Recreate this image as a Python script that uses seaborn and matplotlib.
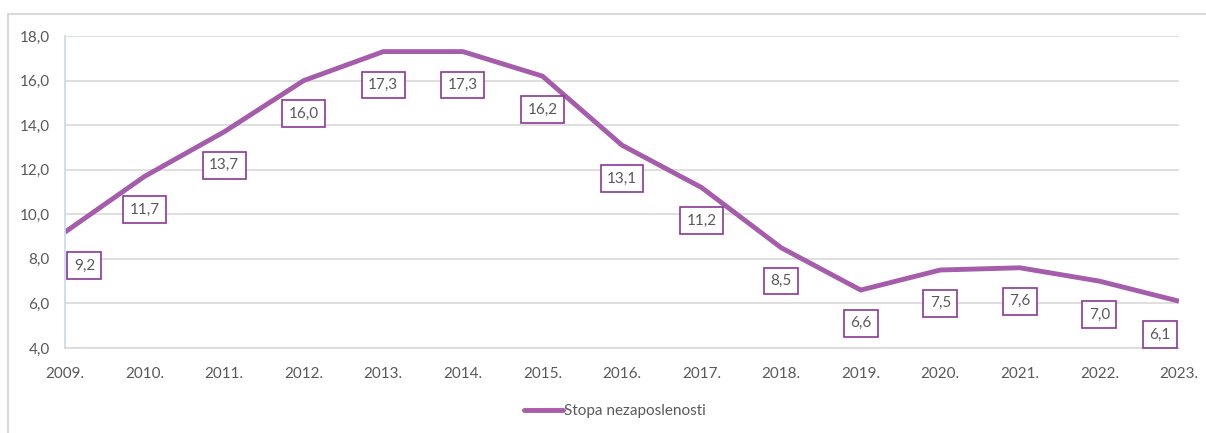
import matplotlib
matplotlib.use("Agg")
import matplotlib.pyplot as plt
import matplotlib.lines as mlines
import seaborn as sns
import pandas as pd

years = ["2009.", "2010.", "2011.", "2012.", "2013.", "2014.", "2015.", "2016.",
         "2017.", "2018.", "2019.", "2020.", "2021.", "2022.", "2023."]
rate = [9.2, 11.7, 13.7, 16.0, 17.3, 17.3, 16.2, 13.1, 11.2, 8.5, 6.6, 7.5, 7.6, 7.0, 6.1]
series_name = "Stopa nezaposlenosti"

df = pd.DataFrame({"year": years, "rate": rate, "pos": range(len(years))})

sns.set_style("white")
plt.rcParams["font.family"] = ["Lato", "DejaVu Sans"]

line_col = "#A55CAA"
box_col = "#8A3896"
text_col = "#595959"
grid_col = "#D9D9D9"

fig = plt.figure(figsize=(12.06, 4.33), dpi=100)
ax = fig.add_axes([65 / 1206, 1 - 348 / 433, (1179 - 65) / 1206, (348 - 36) / 433])

# outer chart border
fig.add_artist(plt.Rectangle((8 / 1206, -0.1), 1.2, 1 - 13.5 / 433 + 0.1,
                             transform=fig.transFigure, fill=False,
                             edgecolor="#D9D9D9", lw=1.5))

sns.lineplot(data=df, x="pos", y="rate", ax=ax, color=line_col, lw=3.5,
             legend=False, solid_capstyle="butt")

ax.set_xlim(0, len(years) - 1)
ax.set_ylim(4, 18)
ax.set_yticks([4, 6, 8, 10, 12, 14, 16, 18])
ax.set_yticklabels([f"{v:.1f}".replace(".", ",") for v in ax.get_yticks()])
ax.set_xticks(range(len(years)))
ax.set_xticklabels(years)
ax.set_xlabel("")
ax.set_ylabel("")

ax.grid(axis="y", color=grid_col, lw=1.2)
ax.set_axisbelow(True)
for s in ["top", "right"]:
    ax.spines[s].set_visible(False)
ax.spines["left"].set_color("#C5D9F1")
ax.spines["left"].set_linewidth(1.2)
ax.spines["bottom"].set_color(grid_col)
ax.spines["bottom"].set_linewidth(1.2)
ax.tick_params(axis="x", direction="in", length=5, color=grid_col, width=1.2,
               labelsize=11, labelcolor=text_col, pad=14)
ax.tick_params(axis="y", length=0, labelsize=11, labelcolor=text_col, pad=11)

for i, v in enumerate(rate):
    dx = 0
    if i == 0:
        dx = 14
    elif i == len(rate) - 1:
        dx = -14
    ax.annotate(f"{v:.1f}".replace(".", ","), (i, v), xytext=(dx, -24),
                textcoords="offset points", ha="center", va="center",
                fontsize=11, color=text_col,
                bbox=dict(boxstyle="square,pad=0.42", fc="white", ec=box_col, lw=1.2))

handle = mlines.Line2D([], [], color=line_col, lw=3.5, solid_capstyle="round")
fig.legend([handle], [series_name], loc="center", bbox_to_anchor=(0.51, 1 - 411 / 433),
           frameon=False, fontsize=11, labelcolor=text_col, handlelength=2.5,
           handletextpad=0.1)

fig.savefig("out.png", dpi=100)
